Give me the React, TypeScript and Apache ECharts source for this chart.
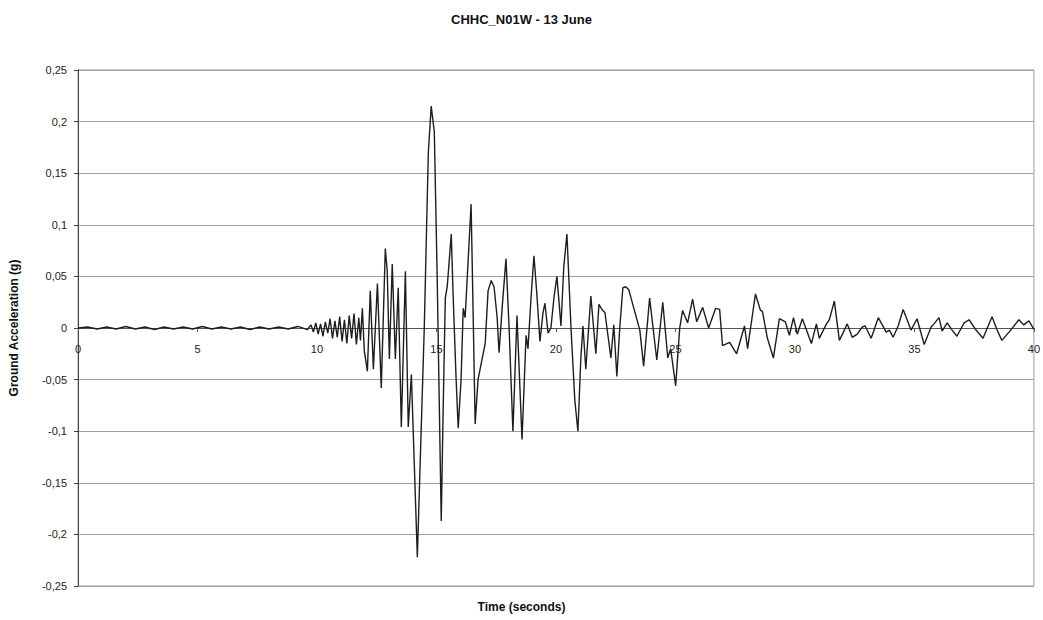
import React, { useEffect, useRef } from "react";
import * as echarts from "echarts";

const chartTitle = "CHHC_N01W - 13 June";
const xAxisTitle = "Time (seconds)";
const yAxisTitle = "Ground Acceleration (g)";

// [time (s), acceleration (g)]
const preEvent: [number, number][] = [
  [0, 0.0], [0.4, 0.001], [0.8, -0.001], [1.2, 0.001], [1.6, -0.001], [2.0, 0.0015],
  [2.4, -0.001], [2.8, 0.001], [3.2, -0.0015], [3.6, 0.001], [4.0, -0.001], [4.4, 0.001],
  [4.8, -0.001], [5.2, 0.0015], [5.6, -0.001], [6.0, 0.001], [6.4, -0.001], [6.8, 0.001],
  [7.2, -0.0015], [7.6, 0.001], [8.0, -0.001], [8.4, 0.001], [8.8, -0.001], [9.2, 0.0015],
  [9.6, -0.0015],
];

const onset: [number, number][] = [
  [9.75, 0.003], [9.85, -0.004], [9.95, 0.005], [10.05, -0.006], [10.15, 0.004],
  [10.25, -0.008], [10.35, 0.006], [10.45, -0.005], [10.55, 0.009], [10.65, -0.01],
  [10.75, 0.007], [10.85, -0.009], [10.95, 0.011], [11.05, -0.013], [11.15, 0.008],
  [11.25, -0.015], [11.35, 0.012], [11.45, -0.01], [11.55, 0.014], [11.65, -0.016],
  [11.75, 0.01], [11.82, -0.012], [11.9, 0.019], [11.98, -0.022], [12.11, -0.042],
  [12.23, 0.036], [12.36, -0.04], [12.53, 0.043], [12.69, -0.058], [12.86, 0.077],
  [12.94, 0.055], [13.03, -0.03], [13.15, 0.062], [13.28, -0.03], [13.4, 0.039],
  [13.53, -0.096], [13.7, 0.055], [13.82, -0.096], [13.95, -0.045],
];

const strongMotion: [number, number][] = [
  [14.2, -0.222], [14.49, 0.0], [14.66, 0.17], [14.78, 0.215], [14.91, 0.19],
  [15.03, 0.05], [15.2, -0.187], [15.28, -0.08], [15.37, 0.029], [15.45, 0.04],
  [15.62, 0.091], [15.7, 0.03], [15.82, -0.048], [15.91, -0.097], [16.03, -0.05],
  [16.12, 0.019], [16.2, 0.01], [16.45, 0.12], [16.62, -0.093], [16.74, -0.05],
  [16.91, -0.03], [17.04, -0.015], [17.16, 0.036], [17.29, 0.046], [17.41, 0.04],
  [17.54, 0.01], [17.62, -0.024], [17.75, 0.02], [17.91, 0.067], [18.04, 0.0],
  [18.2, -0.1], [18.37, 0.012], [18.58, -0.108], [18.75, -0.007], [18.83, -0.02],
  [18.96, 0.03], [19.08, 0.07], [19.21, 0.03], [19.33, -0.013], [19.46, 0.015],
  [19.54, 0.024], [19.67, -0.005], [19.79, 0.0], [19.92, 0.03], [20.04, 0.05],
  [20.21, 0.002], [20.33, 0.06], [20.46, 0.091], [20.63, 0.0], [20.79, -0.07],
  [20.92, -0.1], [21.04, -0.03], [21.13, 0.002], [21.25, -0.04], [21.46, 0.031],
  [21.67, -0.025], [21.8, 0.023], [21.92, 0.018], [22.05, 0.015], [22.3, -0.029],
  [22.42, 0.003], [22.55, -0.047], [22.67, 0.0], [22.8, 0.039], [22.92, 0.04],
  [23.05, 0.037], [23.26, 0.019], [23.51, -0.002], [23.67, -0.037], [23.92, 0.029],
  [24.22, -0.031], [24.47, 0.025], [24.68, -0.029], [24.8, -0.02], [25.01, -0.056],
  [25.18, 0.0], [25.3, 0.017], [25.51, 0.005], [25.72, 0.028], [25.89, 0.006],
];

const coda: [number, number][] = [
  [26.14, 0.02], [26.39, 0.0], [26.68, 0.019], [26.85, 0.018], [26.97, -0.017],
  [27.27, -0.014], [27.56, -0.025], [27.89, 0.002], [28.02, -0.02], [28.35, 0.033],
  [28.56, 0.017], [28.64, 0.016], [28.85, -0.01], [29.1, -0.029], [29.35, 0.009],
  [29.6, 0.006], [29.77, -0.007], [29.94, 0.01], [30.1, -0.006], [30.31, 0.009],
  [30.69, -0.015], [30.9, 0.004], [31.02, -0.01], [31.32, 0.004], [31.44, 0.008],
  [31.65, 0.026], [31.86, -0.012], [32.03, -0.004], [32.19, 0.004], [32.4, -0.009],
  [32.61, -0.006], [32.82, 0.001], [32.94, 0.002], [33.19, -0.01], [33.49, 0.01],
  [33.82, -0.004], [33.95, -0.002], [34.11, -0.009], [34.32, 0.002], [34.53, 0.018],
  [34.86, -0.002], [35.11, 0.009], [35.41, -0.016], [35.7, 0.001], [35.82, 0.004],
  [36.03, 0.01], [36.16, -0.003], [36.37, 0.005], [36.58, -0.002], [36.78, -0.008],
  [37.08, 0.005], [37.29, 0.008], [37.58, -0.002], [37.87, -0.01], [38.25, 0.011],
  [38.46, -0.002], [38.66, -0.012], [38.96, -0.004], [39.37, 0.008], [39.58, 0.003],
  [39.79, 0.007], [40.0, -0.001],
];

const record = [...preEvent, ...onset, ...strongMotion, ...coda];

const FONT = "'Liberation Sans', Arial, sans-serif";

export default function App() {
  const ref = useRef<HTMLDivElement>(null);
  useEffect(() => {
    if (!ref.current) return;
    const chart = echarts.init(ref.current, undefined, { renderer: "svg" });
    chart.setOption({
      animation: false,
      backgroundColor: "#ffffff",
      title: {
        text: chartTitle,
        left: "center",
        top: 8,
        textStyle: { fontFamily: FONT, fontSize: 13, fontWeight: "bold", color: "#111" },
      },
      grid: {
        left: 77,
        right: 8,
        top: 70,
        bottom: 34,
        show: true,
        borderColor: "#9a9a9a",
        borderWidth: 1,
      },
      xAxis: {
        type: "value",
        min: 0,
        max: 40,
        interval: 5,
        offset: -258,
        axisLine: { show: true, onZero: false, lineStyle: { color: "#555", width: 1 } },
        axisTick: { show: true, length: 4, lineStyle: { color: "#555" } },
        axisLabel: { fontFamily: FONT, fontSize: 11, color: "#222", margin: 15 },
        splitLine: { show: false },
      },
      yAxis: {
        type: "value",
        min: -0.25,
        max: 0.25,
        interval: 0.05,
        name: yAxisTitle,
        nameLocation: "middle",
        nameGap: 58,
        nameTextStyle: { fontFamily: FONT, fontSize: 12, fontWeight: "bold", color: "#111" },
        axisLine: { show: true, lineStyle: { color: "#444", width: 1 } },
        axisTick: { show: true, length: 4, lineStyle: { color: "#444" } },
        axisLabel: {
          fontFamily: FONT,
          fontSize: 11,
          color: "#222",
          margin: 11,
          formatter: (v: number) => String(Number(v.toFixed(2))).replace(".", ","),
        },
        splitLine: { show: true, lineStyle: { color: "#a0a0a0", width: 1 } },
      },
      graphic: [
        {
          type: "text",
          left: "center",
          top: 601,
          style: {
            text: xAxisTitle,
            fontFamily: FONT,
            fontSize: 12,
            fontWeight: "bold",
            fill: "#111",
          },
        },
      ],
      series: [
        {
          type: "line",
          data: record,
          showSymbol: false,
          symbol: "none",
          lineStyle: { color: "#1e1e1e", width: 1.4 },
        },
      ],
    });
    return () => chart.dispose();
  }, []);
  return (
    <div
      ref={ref}
      style={{ position: "fixed", left: 0, top: 0, width: 1043, height: 620 }}
    />
  );
}
